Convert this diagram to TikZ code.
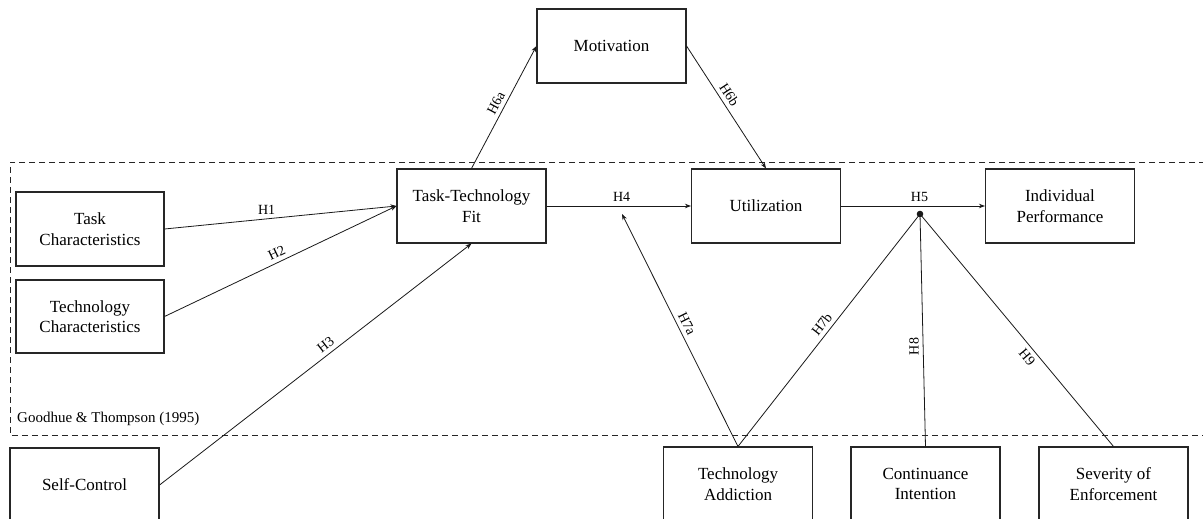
\documentclass[tikz,border=0pt]{standalone}
\usepackage{fontspec}
\setmainfont{Liberation Serif}
\usetikzlibrary{arrows.meta}
\tikzset{
  box/.style={draw=black!85, line width=1.1pt, minimum width=149pt, minimum height=74pt, align=center, inner sep=0pt, font=\fontsize{17}{20.5}\selectfont},
  conn/.style={draw=black!90, line width=0.8pt},
  arr/.style={conn, -{Stealth[length=6pt,width=4.5pt]}},
  hlab/.style={font=\fontsize{14}{16}\selectfont, inner sep=4pt},
  frame/.style={draw=black!85, line width=1pt, dash pattern=on 6pt off 4pt},
}
\begin{document}
\begin{tikzpicture}[x=1pt,y=-1pt]
\useasboundingbox (0,0) rectangle (1203,519);
\clip (0,0) rectangle (1203,519);
\fill[white] (0,0) rectangle (1203,519);

% dashed frame (Goodhue & Thompson)
\draw[frame] (1215,162) -- (10,162) -- (10,435) -- (1215,435);
\node[anchor=west, font=\fontsize{15}{17}\selectfont, inner sep=0pt] (gt) at (17,419) {Goodhue \& Thompson (1995)};

% boxes
\node[box] (mot) at (611.5,46) {Motivation};
\node[box] (ttf) at (471.5,206) {Task-Technology\\Fit};
\node[box] (util) at (766,206) {Utilization};
\node[box] (ip) at (1060,206) {Individual\\Performance};
\node[box, minimum width=148pt] (tc) at (90,229) {Task\\Characteristics};
\node[box, minimum width=148pt, minimum height=73pt] (tech) at (90,316.5) {Technology\\Characteristics};
\node[box] (sc) at (84.5,485) {Self-Control};
\node[box] (ta) at (738,484) {Technology\\Addiction};
\node[box] (ci) at (925.5,484) {Continuance\\Intention};
\node[box] (se) at (1113.5,484) {Severity of\\Enforcement};

% junction points
\coordinate (dot) at (920,214);
\coordinate (h7tip) at (622,214);

% connectors
\draw[arr] (tc.east) -- node[hlab, above, pos=0.44] {H1} (ttf.west);
\draw[arr] (tech.east) -- node[hlab, above, sloped, pos=0.5] {H2} (ttf.west);
\draw[arr] (sc.east) -- node[hlab, above, sloped, pos=0.55] {H3} (ttf.south);
\draw[arr] (ttf.north) -- node[hlab, above, sloped, pos=0.5] {H6a} (mot.west);
\draw[arr] (mot.east) -- node[hlab, above, sloped, pos=0.44] {H6b} (util.north);
\draw[arr] (ttf.east) -- node[hlab, above, pos=0.52] {H4} (util.west);
\draw[arr] (util.east) -- node[hlab, above, pos=0.545] {H5} (ip.west);
\draw[arr] (ta.north) -- node[hlab, above, sloped, pos=0.51] {H7a} (h7tip);
\draw[conn] (ta.north) -- node[hlab, above, sloped, pos=0.5] {H7b} (dot);
\draw[conn] (ci.north) -- node[hlab, above, rotate=90, pos=0.43] {H8} (dot);
\draw[conn] (se.north) -- node[hlab, below, sloped, pos=0.41] {H9} (dot);
\fill[black!90] (dot) circle (3.3pt);
\end{tikzpicture}
\end{document}
